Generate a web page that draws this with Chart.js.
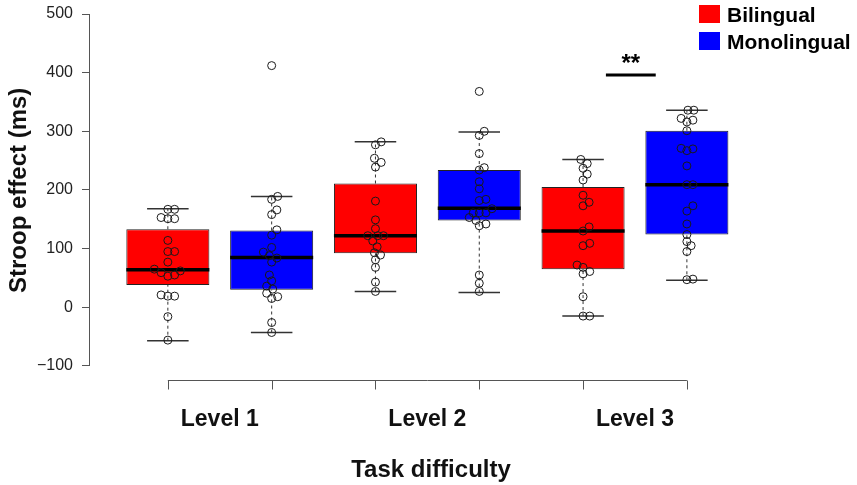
<!DOCTYPE html>
<html lang="en">
<head>
<meta charset="UTF-8">
<title>Stroop effect by task difficulty</title>
<script src="https://cdn.jsdelivr.net/npm/chart.js@4.4.1/dist/chart.umd.min.js"></script>
<style>
  html, body { margin: 0; padding: 0; background: #fff; }
  #wrap { width: 857px; height: 485px; }
</style>
</head>
<body>
<div id="wrap"><canvas id="chart" width="857" height="485"></canvas></div>
<script>
// ---- data ----
const levels = ['Level 1', 'Level 2', 'Level 3'];
const groups = ['Bilingual', 'Monolingual'];
const yTicks = [-100, 0, 100, 200, 300, 400, 500];

// box statistics, one entry per box: L1 Bil, L1 Mono, L2 Bil, L2 Mono, L3 Bil, L3 Mono
const whiskerLow  = [-57, -43, 27, 25, -15, 46];
const q1          = [38, 30, 92, 148, 65, 124];
const median      = [64, 85, 122, 169, 130, 209];
const q3          = [133, 131, 211, 234, 205, 301];
const whiskerHigh = [168, 189, 282, 299, 252, 336];

// individual participants
const l1Bil  = [167, 167, 153, 151, 151, 114, 95, 95, 77, 65, 59, 53, 55, 62, 21, 19, 19, -16, -56];
const l1Mono = [412, 189, 184, 166, 158, 132, 123, 102, 94, 88, 84, 77, 55, 45, 36, 31, 24, 18, 15, -26, -43];
const l2Bil  = [282, 277, 254, 247, 239, 181, 149, 134, 122, 122, 122, 113, 103, 93, 89, 81, 68, 43, 27];
const l2Mono = [368, 300, 293, 262, 238, 234, 214, 202, 184, 182, 168, 161, 161, 161, 153, 148, 139, 142, 55, 41, 27];
const l3Bil  = [252, 245, 237, 227, 217, 191, 179, 173, 137, 130, 105, 109, 72, 68, 61, 57, 18, -15, -15];
const l3Mono = [336, 336, 322, 316, 319, 301, 271, 267, 270, 241, 209, 209, 173, 164, 142, 124, 112, 105, 95, 47, 48];

// horizontal jitter of each point (x-axis units)
const jL1Bil  = [0, .065, -.065, 0, .065, 0, 0, .065, 0, -.13, -.065, 0, .065, .12, -.065, 0, .065, 0, 0];
const jL1Mono = [0, .058, 0, .05, 0, .05, 0, 0, -.08, -.022, .05, 0, -.022, 0, -.048, .01, -.048, .058, 0, 0, 0];
const jL2Bil  = [.055, 0, -.01, .055, 0, 0, 0, 0, -.074, .022, .077, -.026, .016, -.01, .048, 0, 0, 0, 0];
const jL2Mono = [0, .048, 0, 0, .048, 0, 0, 0, .064, 0, .122, .064, 0, -.058, -.096, -.032, 0, .064, 0, 0, 0];
const jL3Bil  = [-.022, .04, 0, .04, 0, 0, .058, 0, .058, 0, 0, .064, -.058, 0, .064, 0, 0, 0, .064];
const jL3Mono = [.01, .067, -.055, 0, .058, 0, -.055, 0, .058, 0, 0, .058, .058, 0, 0, 0, 0, .041, 0, 0, .058];

// significance mark between the Level 3 boxes
const sigFrom = 5.22, sigTo = 5.70, sigY = 396, sigLabel = '**';

const pointValues = [l1Bil, l1Mono, l2Bil, l2Mono, l3Bil, l3Mono];
const pointJitter = [jL1Bil, jL1Mono, jL2Bil, jL2Mono, jL3Bil, jL3Mono];

// ---- styles ----
const FONT = "'Liberation Sans', Arial, Helvetica, sans-serif";
const groupColors = ['#ff0000', '#0000ff'];
const yMin = -124;
const xMin = 0.25, xMax = 6.82;

Chart.defaults.font.family = FONT;

// box k sits at x = k + 1 (two boxes per level)
const boxData = g => q1.map((v, k) => ({ x: k + 1, y: [q1[k], q3[k]] })).filter((_, k) => k % 2 === g);

function segments(list) {
  const out = [];
  list.forEach(([x0, y0, x1, y1]) => {
    out.push({ x: x0, y: y0 }, { x: x1, y: y1 }, { x: x1, y: null });
  });
  return out;
}

const whiskerSegs = [], capSegs = [], medianSegs = [];
q1.forEach((_, k) => {
  const x = k + 1;
  whiskerSegs.push([x, whiskerLow[k], x, q1[k]], [x, q3[k], x, whiskerHigh[k]]);
  capSegs.push([x - 0.2, whiskerLow[k], x + 0.2, whiskerLow[k]], [x - 0.2, whiskerHigh[k], x + 0.2, whiskerHigh[k]]);
  medianSegs.push([x - 0.4, median[k], x + 0.4, median[k]]);
});

const points = [];
pointValues.forEach((vals, k) => {
  vals.forEach((v, i) => points.push({ x: k + 1 + pointJitter[k][i], y: v }));
});

const decorations = {
  id: 'decorations',
  afterDraw(chart) {
    const { ctx, chartArea, scales: { x, y } } = chart;
    ctx.save();
    ctx.strokeStyle = '#555';
    ctx.lineWidth = 1;

    // y axis line only over the tick range
    const ax = chartArea.left - 0.5;
    ctx.beginPath();
    ctx.moveTo(ax, y.getPixelForValue(yTicks[yTicks.length - 1]));
    ctx.lineTo(ax, y.getPixelForValue(yTicks[0]));
    ctx.stroke();

    // x axis line with a tick under every box
    const by = chartArea.bottom + 0.5;
    ctx.beginPath();
    ctx.moveTo(x.getPixelForValue(1), by);
    ctx.lineTo(x.getPixelForValue(q1.length), by);
    for (let k = 1; k <= q1.length; k++) {
      const px = Math.round(x.getPixelForValue(k)) + 0.5;
      ctx.moveTo(px, by);
      ctx.lineTo(px, by + 9);
    }
    ctx.stroke();

    // significance stars
    ctx.fillStyle = '#000';
    ctx.font = 'bold 24px ' + FONT;
    ctx.textAlign = 'center';
    ctx.textBaseline = 'alphabetic';
    ctx.fillText(sigLabel, x.getPixelForValue((sigFrom + sigTo) / 2), y.getPixelForValue(sigY) - 4);

    // legend
    ctx.textAlign = 'left';
    ctx.font = 'bold 21px ' + FONT;
    groups.forEach((g, i) => {
      const top = 5 + i * 27;
      ctx.fillStyle = groupColors[i];
      ctx.fillRect(699, top, 21, 18);
      ctx.fillStyle = '#000';
      ctx.fillText(g, 727, top + 17);
    });
    ctx.restore();
  }
};

new Chart(document.getElementById('chart'), {
  type: 'bar',
  data: {
    datasets: [
      {
        type: 'scatter', label: 'points', data: points, order: 0,
        pointRadius: 4, pointBorderWidth: 1, pointStyle: 'circle',
        borderColor: '#1a1a1a', backgroundColor: 'rgba(0,0,0,0)'
      },
      {
        type: 'line', label: 'sig', data: [{ x: sigFrom, y: sigY }, { x: sigTo, y: sigY }], order: 0,
        borderColor: '#000', borderWidth: 3, pointRadius: 0
      },
      {
        type: 'line', label: 'median', data: segments(medianSegs), order: 1,
        borderColor: '#000', borderWidth: 3.5, pointRadius: 0, spanGaps: false
      },
      {
        label: groups[0], data: boxData(0), order: 2,
        backgroundColor: groupColors[0], borderColor: '#222', borderWidth: 1, borderSkipped: false,
        grouped: false, barPercentage: 0.8, categoryPercentage: 1
      },
      {
        label: groups[1], data: boxData(1), order: 2,
        backgroundColor: groupColors[1], borderColor: '#222', borderWidth: 1, borderSkipped: false,
        grouped: false, barPercentage: 0.8, categoryPercentage: 1
      },
      {
        type: 'line', label: 'caps', data: segments(capSegs), order: 3,
        borderColor: '#333', borderWidth: 1.5, pointRadius: 0, spanGaps: false
      },
      {
        type: 'line', label: 'whiskers', data: segments(whiskerSegs), order: 4,
        borderColor: '#333', borderWidth: 1, borderDash: [3, 3], pointRadius: 0, spanGaps: false
      }
    ]
  },
  options: {
    responsive: false,
    animation: false,
    devicePixelRatio: 1,
    events: [],
    layout: { padding: { top: 14, right: 85, left: 0, bottom: 0 } },
    plugins: { legend: { display: false }, tooltip: { enabled: false } },
    scales: {
      x: {
        type: 'linear', min: xMin, max: xMax, offset: false,
        grid: { display: false, drawTicks: false },
        border: { display: false },
        afterBuildTicks: s => { s.ticks = levels.map((_, i) => ({ value: 2 * i + 1.5 })); },
        afterFit: s => { s.height = 105; s.paddingLeft = 0; s.paddingRight = 0; },
        ticks: {
          callback: (v, i) => levels[i],
          font: { size: 23, weight: 'bold' }, color: '#111',
          padding: 26, maxRotation: 0, autoSkip: false
        },
        title: {
          display: true, text: 'Task difficulty',
          font: { size: 24, weight: 'bold' }, color: '#111', padding: 0
        }
      },
      y: {
        min: yMin, max: 500,
        afterBuildTicks: s => { s.ticks = yTicks.map(v => ({ value: v })); },
        afterFit: s => { s.width = 90; s.paddingTop = 0; s.paddingBottom = 0; },
        grid: { drawOnChartArea: false, drawTicks: true, tickLength: 8, color: '#555' },
        border: { display: false },
        ticks: {
          callback: v => (v < 0 ? '\u2212' + Math.abs(v) : String(v)),
          font: { size: 16 }, color: '#222', padding: 9
        },
        title: {
          display: true, text: '  Stroop effect (ms)',
          font: { size: 24, weight: 'bold' }, color: '#111', padding: { top: 5, bottom: 0 }
        }
      }
    }
  },
  plugins: [decorations]
});
</script>
</body>
</html>
